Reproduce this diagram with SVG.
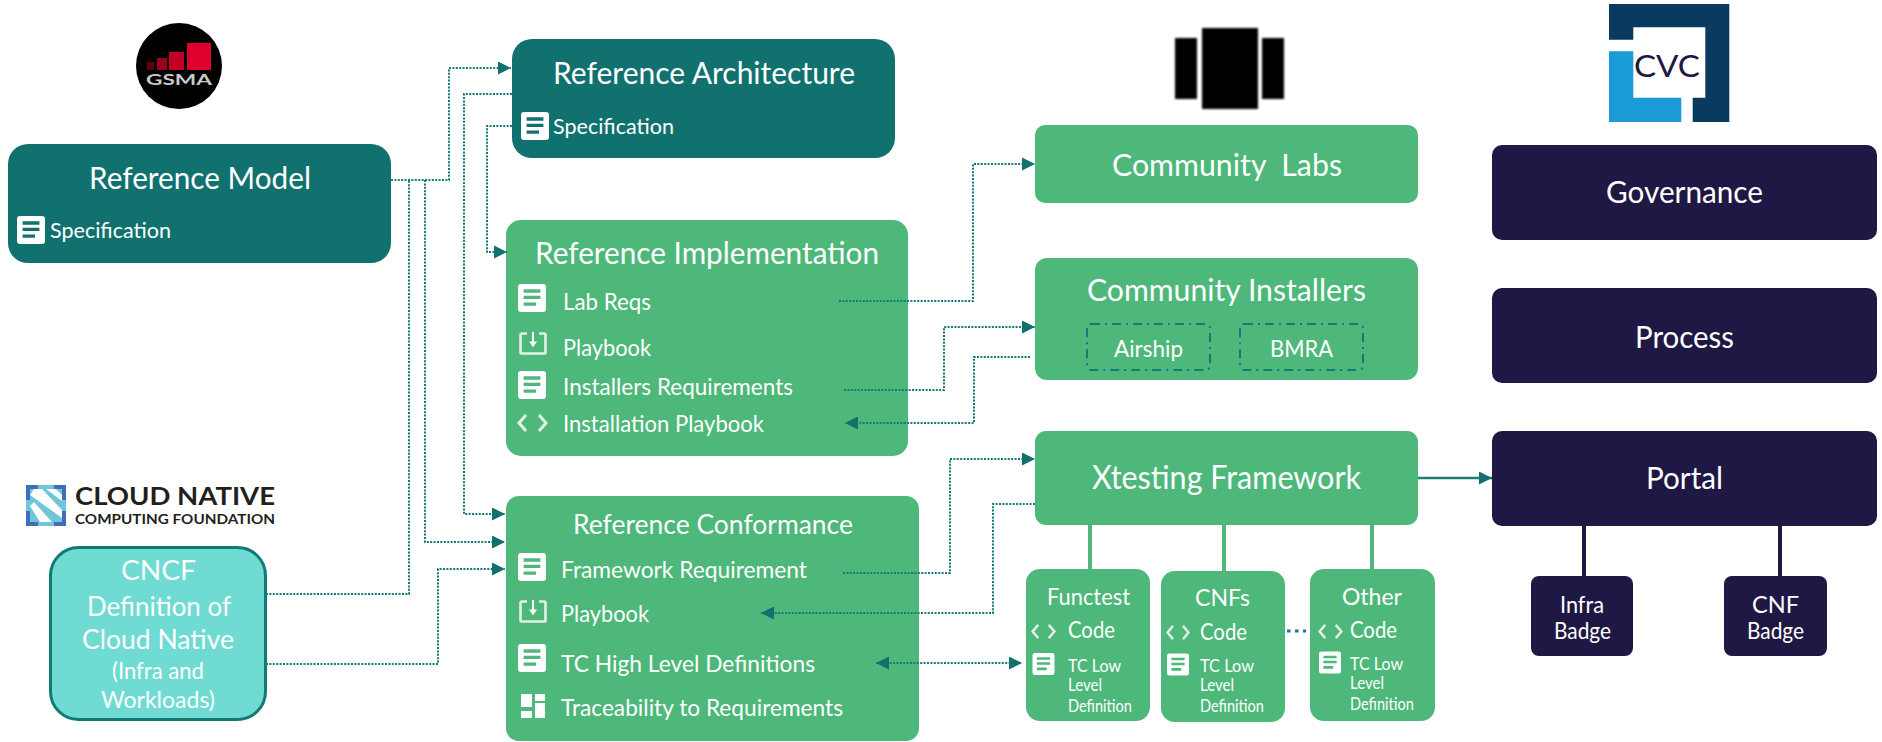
<svg xmlns="http://www.w3.org/2000/svg" width="1882" height="742" viewBox="0 0 1882 742">
<style>
text{font-family:Lato,"Liberation Sans",sans-serif;fill:#fff}
.t{fill:#11716f}.g{fill:#4db87a}.n{fill:#1f1844}
.s30,.s32,.s27,.s24,.s23,.s22,.s26{transform:translateY(1px)}
.s30{font-size:30px}.s32{font-size:32px}.s27{font-size:27px}.s24{font-size:24px}.s23{font-size:23px}.s22{font-size:22px}.s17{font-size:17px}.s26{font-size:26px}
.dot{fill:none;stroke:#137a78;stroke-width:2;stroke-dasharray:2 1.4}
.dash{fill:none;stroke:#137a78;stroke-width:2;stroke-dasharray:9 5 2 5}
.link{fill:none;stroke:#4db87a;stroke-width:4}
.nlink{fill:none;stroke:#1f1844;stroke-width:4}
.lg{font-weight:700;fill:#231f20}
</style>
<defs>
<filter id="b" x="-10%" y="-10%" width="120%" height="120%"><feGaussianBlur stdDeviation="0.9"/></filter>
<marker id="ah" markerUnits="userSpaceOnUse" markerWidth="13" markerHeight="13" refX="13" refY="6.500" orient="auto-start-reverse"><path d="M0 0L13 6.500L0 13Z" fill="#12706f"/></marker>
<symbol id="doc" viewBox="0 0 28 28"><rect width="28" height="28" rx="3" fill="#fff"/><path d="M5.6 5.3H22.4V8.7H5.6ZM5.6 11.8H22.4V15H5.6ZM5.6 18.5H18V21.8H5.6Z" fill="currentColor"/></symbol>
<symbol id="dl" viewBox="0 0 28 24" preserveAspectRatio="none"><path d="M8 1.5H3Q1.500 1.500 1.500 3V21Q1.500 22.500 3 22.500H25Q26.500 22.500 26.500 21V3Q26.500 1.500 25 1.500H20" fill="none" stroke="#e4f2e6" stroke-width="2.600"/><path d="M14 0V11" stroke="#fff" stroke-width="2"/><path d="M10 10H18L14 16Z" fill="#fff"/></symbol>
<symbol id="code" viewBox="0 0 31 18" preserveAspectRatio="none"><path d="M9 1L2 9L9 17M22 1L29 9L22 17" fill="none" stroke="#e4f2e6" stroke-width="3"/></symbol>
</defs>
<rect width="1882" height="742" fill="#fff"/>

<g id="logo-gsma">
<circle cx="179" cy="66" r="43" fill="#000"/>
<rect x="147" y="62" width="7" height="8" fill="#5c0010"/><rect x="157" y="58" width="10" height="12" fill="#9a0020"/><rect x="169" y="52" width="15" height="18" fill="#c40028"/><rect x="187" y="43" width="24" height="27" fill="#e0002d"/>
<text x="146" y="85" font-size="15" font-weight="700" textLength="66" lengthAdjust="spacingAndGlyphs" style="fill:#c9c9c9">GSMA</text>
</g>

<g id="logo-cncf">
<rect x="26" y="485" width="40" height="41" fill="#6fc6da"/>
<path d="M26 485H38V489H30V500H26ZM54 485H66V500H62V489H54ZM26 511H30V522H38V526H26ZM62 511H66V526H54V522H62Z" fill="#3f6fb8"/>
<path d="M30 495L34 489L42 489L62 510L62 518ZM30 506L34 502L52 522H40ZM46 489H56L62 495V501Z" fill="#fff"/>
<text class="lg" x="75" y="505" font-size="24" textLength="200" lengthAdjust="spacingAndGlyphs">CLOUD NATIVE</text>
<text class="lg" x="75" y="524" font-size="14" textLength="200" lengthAdjust="spacingAndGlyphs">COMPUTING FOUNDATION</text>
</g>

<g id="logo-community"><g filter="url(#b)">
<rect x="1175" y="38" width="22" height="61" fill="#000"/><rect x="1202" y="28" width="56" height="81" fill="#000"/><rect x="1262" y="38" width="22" height="61" fill="#000"/></g>
</g>

<g id="logo-cvc">
<path d="M1609 4H1729.300V122H1692.700V97.700H1705.300V27.300H1633.300V39.700H1609Z" fill="#0b3a60"/>
<path d="M1609 51.300H1633.300V97.700H1681.300V122H1609Z" fill="#1a9ad6"/>
<text x="1634" y="77" font-size="30" textLength="66" lengthAdjust="spacingAndGlyphs" style="fill:#1f1844">CVC</text>
</g>

<g id="reference-model" color="#11716f">
<rect class="t" x="8" y="144" width="383" height="119" rx="20"/>
<text class="s30" x="89" y="188" textLength="222" lengthAdjust="spacingAndGlyphs">Reference Model</text>
<use href="#doc" x="17" y="216" width="28" height="28"/>
<text class="s22" x="50" y="237" textLength="121" lengthAdjust="spacingAndGlyphs">Specification</text>
</g>

<g id="reference-architecture" color="#11716f">
<rect class="t" x="512" y="39" width="383" height="119" rx="20"/>
<text class="s30" x="553" y="83" textLength="302" lengthAdjust="spacingAndGlyphs">Reference Architecture</text>
<use href="#doc" x="521" y="112" width="28" height="28"/>
<text class="s22" x="553" y="133" textLength="121" lengthAdjust="spacingAndGlyphs">Specification</text>
</g>

<g id="reference-implementation" color="#4db87a">
<rect class="g" x="506" y="220" width="402" height="236" rx="15"/>
<text class="s30" x="535" y="263" textLength="344" lengthAdjust="spacingAndGlyphs">Reference Implementation</text>
<use href="#doc" x="518" y="284" width="28" height="28"/>
<text class="s23" x="563" y="309" textLength="88" lengthAdjust="spacingAndGlyphs">Lab Reqs</text>
<use href="#dl" x="519" y="332" width="28" height="23"/>
<text class="s23" x="563" y="355" textLength="88" lengthAdjust="spacingAndGlyphs">Playbook</text>
<use href="#doc" x="518" y="371" width="28" height="28"/>
<text class="s23" x="563" y="394" textLength="230" lengthAdjust="spacingAndGlyphs">Installers Requirements</text>
<use href="#code" x="517" y="414" width="31" height="18"/>
<text class="s23" x="563" y="431" textLength="201" lengthAdjust="spacingAndGlyphs">Installation Playbook</text>
</g>

<g id="reference-conformance" color="#4db87a">
<rect class="g" x="506" y="496" width="413" height="245" rx="13"/>
<text class="s27" x="573" y="533" textLength="280" lengthAdjust="spacingAndGlyphs">Reference Conformance</text>
<use href="#doc" x="518" y="553" width="28" height="28"/>
<text class="s23" x="561" y="577" textLength="246" lengthAdjust="spacingAndGlyphs">Framework Requirement</text>
<use href="#dl" x="519" y="600" width="28" height="23"/>
<text class="s23" x="561" y="621" textLength="88" lengthAdjust="spacingAndGlyphs">Playbook</text>
<use href="#doc" x="518" y="644" width="28" height="28"/>
<text class="s23" x="561" y="671" textLength="254" lengthAdjust="spacingAndGlyphs">TC High Level Definitions</text>
<path d="M521 694H532V707H521ZM535 694H545V701H535ZM535 703H545V718H535ZM521 711H532V718H521Z" fill="#fff"/>
<text class="s23" x="561" y="715" textLength="282" lengthAdjust="spacingAndGlyphs">Traceability to Requirements</text>
</g>

<g id="cncf-definition">
<rect x="50.500" y="547.500" width="215" height="172" rx="28" fill="#6fdbd2" stroke="#127a75" stroke-width="3"/>
<text class="s26" x="121" y="579" textLength="75" lengthAdjust="spacingAndGlyphs">CNCF</text>
<text class="s26" x="87" y="615" textLength="144" lengthAdjust="spacingAndGlyphs">Definition of</text>
<text class="s26" x="82" y="648" textLength="152" lengthAdjust="spacingAndGlyphs">Cloud Native</text>
<text class="s23" x="112" y="678" textLength="92" lengthAdjust="spacingAndGlyphs">(Infra and</text>
<text class="s23" x="101" y="707" textLength="114" lengthAdjust="spacingAndGlyphs">Workloads)</text>
</g>

<g id="community-labs">
<rect class="g" x="1035" y="125" width="383" height="78" rx="10"/>
<text class="s30" x="1112" y="175" textLength="230" lengthAdjust="spacingAndGlyphs" style="white-space:pre">Community  Labs</text>
</g>

<g id="community-installers">
<rect class="g" x="1035" y="258" width="383" height="122" rx="12"/>
<text class="s30" x="1087" y="300" textLength="279" lengthAdjust="spacingAndGlyphs">Community Installers</text>
</g>
<g id="airship">
<rect class="dash" x="1087" y="324" width="123" height="46" rx="4"/>
<text class="s23" x="1114" y="356" textLength="69" lengthAdjust="spacingAndGlyphs">Airship</text>
</g>
<g id="bmra">
<rect class="dash" x="1240" y="324" width="123" height="46" rx="4"/>
<text class="s23" x="1270" y="356" textLength="63" lengthAdjust="spacingAndGlyphs">BMRA</text>
</g>

<g id="xtesting-framework">
<rect class="g" x="1035" y="431" width="383" height="94" rx="11"/>
<text class="s32" x="1092" y="488" textLength="269" lengthAdjust="spacingAndGlyphs">Xtesting Framework</text>
</g>

<g id="functest" color="#4db87a">
<rect class="g" x="1026" y="569" width="124" height="152" rx="14"/>
<text class="s24" x="1047" y="604" textLength="83" lengthAdjust="spacingAndGlyphs">Functest</text>
<use href="#code" x="1031" y="624" width="25" height="15"/>
<text class="s24" x="1068" y="637" textLength="47" lengthAdjust="spacingAndGlyphs">Code</text>
<use href="#doc" x="1032" y="653" width="23" height="22"/>
<text class="s17" x="1068" y="672" textLength="53" lengthAdjust="spacingAndGlyphs">TC Low</text>
<text class="s17" x="1068" y="691" textLength="34" lengthAdjust="spacingAndGlyphs">Level</text>
<text class="s17" x="1068" y="712" textLength="64" lengthAdjust="spacingAndGlyphs">Definition</text>
</g>

<g id="cnfs" color="#4db87a">
<rect class="g" x="1161" y="571" width="124" height="151" rx="14"/>
<text class="s24" x="1195" y="605" textLength="55" lengthAdjust="spacingAndGlyphs">CNFs</text>
<use href="#code" x="1166" y="625" width="24" height="15"/>
<text class="s24" x="1200" y="639" textLength="47" lengthAdjust="spacingAndGlyphs">Code</text>
<use href="#doc" x="1167" y="653" width="22" height="23"/>
<text class="s17" x="1200" y="672" textLength="54" lengthAdjust="spacingAndGlyphs">TC Low</text>
<text class="s17" x="1200" y="691" textLength="34" lengthAdjust="spacingAndGlyphs">Level</text>
<text class="s17" x="1200" y="712" textLength="64" lengthAdjust="spacingAndGlyphs">Definition</text>
</g>

<g id="other" color="#4db87a">
<rect class="g" x="1310" y="569" width="125" height="152" rx="14"/>
<text class="s24" x="1342" y="604" textLength="60" lengthAdjust="spacingAndGlyphs">Other</text>
<use href="#code" x="1318" y="624" width="25" height="15"/>
<text class="s24" x="1350" y="637" textLength="47" lengthAdjust="spacingAndGlyphs">Code</text>
<use href="#doc" x="1319" y="651" width="22" height="23"/>
<text class="s17" x="1350" y="670" textLength="53" lengthAdjust="spacingAndGlyphs">TC Low</text>
<text class="s17" x="1350" y="689" textLength="34" lengthAdjust="spacingAndGlyphs">Level</text>
<text class="s17" x="1350" y="710" textLength="64" lengthAdjust="spacingAndGlyphs">Definition</text>
</g>

<g id="governance">
<rect class="n" x="1492" y="145" width="385" height="95" rx="10"/>
<text class="s30" x="1606" y="202" textLength="157" lengthAdjust="spacingAndGlyphs">Governance</text>
</g>
<g id="process">
<rect class="n" x="1492" y="288" width="385" height="95" rx="10"/>
<text class="s30" x="1635" y="347" textLength="99" lengthAdjust="spacingAndGlyphs">Process</text>
</g>
<g id="portal">
<rect class="n" x="1492" y="431" width="385" height="95" rx="10"/>
<text class="s30" x="1646" y="488" textLength="77" lengthAdjust="spacingAndGlyphs">Portal</text>
</g>
<g id="infra-badge">
<rect class="n" x="1531" y="576" width="102" height="80" rx="8"/>
<text class="s23" x="1560" y="612" textLength="44" lengthAdjust="spacingAndGlyphs">Infra</text>
<text class="s23" x="1554" y="638" textLength="57" lengthAdjust="spacingAndGlyphs">Badge</text>
</g>
<g id="cnf-badge">
<rect class="n" x="1724" y="576" width="103" height="80" rx="8"/>
<text class="s23" x="1752" y="612" textLength="47" lengthAdjust="spacingAndGlyphs">CNF</text>
<text class="s23" x="1747" y="638" textLength="57" lengthAdjust="spacingAndGlyphs">Badge</text>
</g>

<g id="connectors">
<path class="dot" d="M391 180H449V68H511" marker-end="url(#ah)"/>
<path class="dot" d="M425 180V542H505" marker-end="url(#ah)"/>
<path class="dot" d="M266 594H409V180"/>
<path class="dot" d="M512 94H464V514H505" marker-end="url(#ah)"/>
<path class="dot" d="M512 126H487V252H507" marker-end="url(#ah)"/>
<path class="dot" d="M266 664H438V569H505" marker-end="url(#ah)"/>
<path class="dot" d="M839 301H973V164H1035" marker-end="url(#ah)"/>
<path class="dot" d="M844 390H944V327H1035" marker-end="url(#ah)"/>
<path class="dot" d="M1030 357H974V423H845" marker-end="url(#ah)"/>
<path class="dot" d="M843 573H950V459H1035" marker-end="url(#ah)"/>
<path class="dot" d="M1035 504H993V613H761" marker-end="url(#ah)"/>
<path class="dot" d="M876 663H1022" marker-start="url(#ah)" marker-end="url(#ah)"/>
<path d="M1418 478H1492" fill="none" stroke="#1a8070" stroke-width="2.500" marker-end="url(#ah)"/>
<path class="link" d="M1090 525V569M1224 525V571M1372 525V569"/>
<path class="nlink" d="M1584 526V576M1780 526V576"/>
<path d="M1287 631H1306" fill="none" stroke="#1f6fa8" stroke-width="3" stroke-dasharray="3.500 4.500"/>
</g>
</svg>
